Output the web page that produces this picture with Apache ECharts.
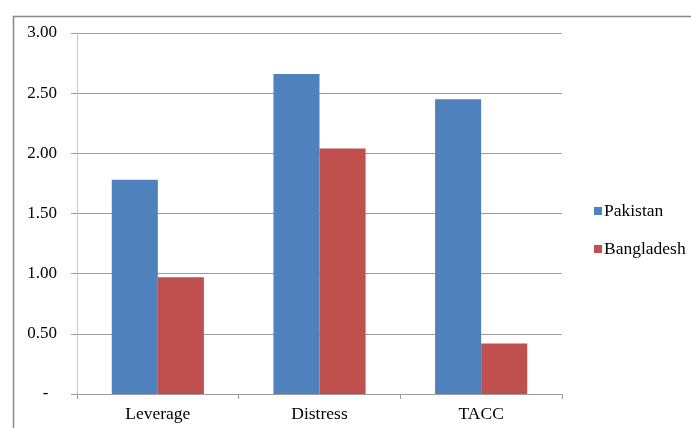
<!DOCTYPE html>
<html>
<head>
<meta charset="utf-8">
<script src="https://cdn.jsdelivr.net/npm/echarts@6/dist/echarts.min.js"></script>
<style>html,body{margin:0;padding:0;background:#fff}#c{width:691px;height:428px}</style>
</head>
<body>
<div id="c"></div>
<script>
var categories = ['Leverage', 'Distress', 'TACC'];
var pakistan = [1.78, 2.66, 2.45];
var bangladesh = [0.97, 2.04, 0.42];
var seriesNames = ['Pakistan', 'Bangladesh'];
var yTicks = [0, 0.5, 1.0, 1.5, 2.0, 2.5, 3.0];

var font = 'Liberation Serif, Times New Roman, serif';
var chart = echarts.init(document.getElementById('c'), null, {renderer: 'canvas'});
chart.setOption({
  animation: false,
  backgroundColor: '#fff',
  graphic: [{
    type: 'rect', left: 11, top: 14, silent: true,
    shape: {width: 720, height: 440},
    style: {fill: 'none', stroke: '#888888', lineWidth: 1.5}
  }],
  grid: {left: 77, right: 129, top: 33, bottom: 34, containLabel: false},
  legend: {
    orient: 'vertical', left: 589, top: 196,
    itemWidth: 8, itemHeight: 8, itemGap: 18, icon: 'rect',
    data: seriesNames,
    textStyle: {fontFamily: font, fontSize: 17.5, color: '#000', lineHeight: 20, padding: [0, 0, 0, -3]}
  },
  xAxis: {
    type: 'category', data: categories,
    axisLine: {lineStyle: {color: '#9c9c9c', width: 1}},
    axisTick: {show: true, length: 5, lineStyle: {color: '#9c9c9c'}},
    axisLabel: {fontFamily: font, fontSize: 17.5, color: '#000', margin: 11}
  },
  yAxis: {
    type: 'value', min: 0, max: 3, interval: 0.5,
    axisLine: {show: true, lineStyle: {color: '#c8c8c8', width: 1}},
    axisTick: {show: true, length: 6, lineStyle: {color: '#9c9c9c'}},
    splitLine: {show: true, lineStyle: {color: '#9c9c9c', width: 1}},
    axisLabel: {
      fontFamily: font, fontSize: 17, color: '#000', margin: 20,
      formatter: function (v) { return v === 0 ? '-  ' : v.toFixed(2); }
    }
  },
  series: [
    {name: seriesNames[0], type: 'bar', data: pakistan, barGap: '0%', barCategoryGap: '43%',
     itemStyle: {color: '#4F81BD'}},
    {name: seriesNames[1], type: 'bar', data: bangladesh, barGap: '0%', barCategoryGap: '43%',
     itemStyle: {color: '#C0504D'}}
  ]
});
</script>
</body>
</html>
